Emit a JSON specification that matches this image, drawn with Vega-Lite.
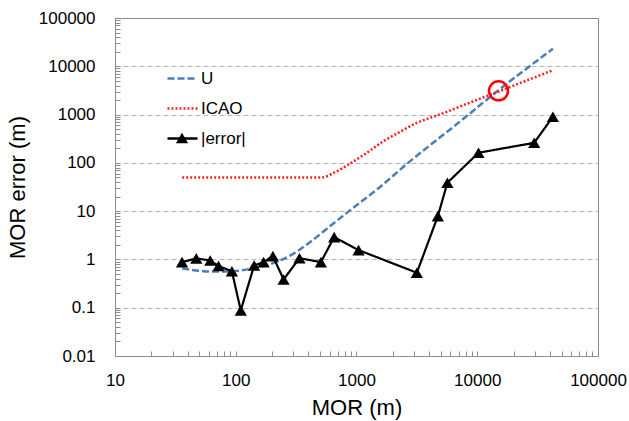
{
  "$schema": "https://vega.github.io/schema/vega-lite/v6.json",
  "width": 483,
  "height": 338,
  "autosize": {"type": "none"},
  "padding": {"left": 115, "top": 18, "right": 31, "bottom": 65},
  "background": "white",
  "config": {
    "font": "Liberation Sans",
    "view": {"stroke": "#8c8c8c", "strokeWidth": 1}
  },
  "data": {
    "values": [
      {"series": "U", "mor": 36, "err": 0.65},
      {"series": "U", "mor": 45, "err": 0.6},
      {"series": "U", "mor": 54, "err": 0.57},
      {"series": "U", "mor": 70, "err": 0.56},
      {"series": "U", "mor": 96, "err": 0.57},
      {"series": "U", "mor": 132, "err": 0.64},
      {"series": "U", "mor": 193, "err": 0.8},
      {"series": "U", "mor": 282, "err": 1.2},
      {"series": "U", "mor": 414, "err": 2.3},
      {"series": "U", "mor": 605, "err": 4.9},
      {"series": "U", "mor": 887, "err": 10.5},
      {"series": "U", "mor": 1500, "err": 29},
      {"series": "U", "mor": 2610, "err": 95},
      {"series": "U", "mor": 7210, "err": 720},
      {"series": "U", "mor": 15000, "err": 3200},
      {"series": "U", "mor": 42300, "err": 23000},
      {"series": "ICAO", "mor": 36, "err": 50},
      {"series": "ICAO", "mor": 518, "err": 50},
      {"series": "ICAO", "mor": 646, "err": 62},
      {"series": "ICAO", "mor": 887, "err": 97},
      {"series": "ICAO", "mor": 1220, "err": 162},
      {"series": "ICAO", "mor": 1675, "err": 281},
      {"series": "ICAO", "mor": 2300, "err": 440},
      {"series": "ICAO", "mor": 3160, "err": 676},
      {"series": "ICAO", "mor": 4350, "err": 905},
      {"series": "ICAO", "mor": 5600, "err": 1140},
      {"series": "ICAO", "mor": 7210, "err": 1470},
      {"series": "ICAO", "mor": 15000, "err": 3000},
      {"series": "ICAO", "mor": 42300, "err": 8300},
      {"series": "|error|", "mor": 35.9, "err": 0.88},
      {"series": "|error|", "mor": 47.1, "err": 1.05},
      {"series": "|error|", "mor": 61.5, "err": 0.95},
      {"series": "|error|", "mor": 72, "err": 0.73},
      {"series": "|error|", "mor": 92.9, "err": 0.57},
      {"series": "|error|", "mor": 110, "err": 0.088},
      {"series": "|error|", "mor": 142, "err": 0.75},
      {"series": "|error|", "mor": 170, "err": 0.88},
      {"series": "|error|", "mor": 203, "err": 1.17},
      {"series": "|error|", "mor": 249, "err": 0.385},
      {"series": "|error|", "mor": 337, "err": 1.06},
      {"series": "|error|", "mor": 507, "err": 0.88},
      {"series": "|error|", "mor": 653, "err": 2.9},
      {"series": "|error|", "mor": 1040, "err": 1.56},
      {"series": "|error|", "mor": 3160, "err": 0.53},
      {"series": "|error|", "mor": 4720, "err": 7.9},
      {"series": "|error|", "mor": 5660, "err": 38.7},
      {"series": "|error|", "mor": 10240, "err": 162},
      {"series": "|error|", "mor": 29600, "err": 260},
      {"series": "|error|", "mor": 42300, "err": 900}
    ]
  },
  "encoding": {
    "x": {
      "field": "mor",
      "type": "quantitative",
      "scale": {"type": "log", "domain": [10, 100000], "nice": false},
      "axis": {
        "title": "MOR (m)",
        "titleFontSize": 22,
        "titleFontWeight": "normal",
        "titleColor": "#000",
        "titleX": 241.5,
        "titleY": 51,
        "titleBaseline": "middle",
        "values": [10,20,30,40,50,60,70,80,90,100,200,300,400,500,600,700,800,900,1000,2000,3000,4000,5000,6000,7000,8000,9000,10000,20000,30000,40000,50000,60000,70000,80000,90000,100000],
        "labelExpr": "indexof([10,100,1000,10000,100000], datum.value) >= 0 ? '' + datum.value : ''",
        "labelFontSize": 17,
        "labelColor": "#000",
        "labelPadding": 21,
        "labelOverlap": false,
        "labelFlush": false,
        "tickSize": -5,
        "tickColor": "#8c8c8c",
        "domainColor": "#8c8c8c",
        "grid": false
      }
    },
    "y": {
      "field": "err",
      "type": "quantitative",
      "scale": {"type": "log", "domain": [0.01, 100000], "nice": false},
      "axis": {
        "title": "MOR error (m)",
        "titleFontSize": 22,
        "titleFontWeight": "normal",
        "titleColor": "#000",
        "titleX": -98,
        "titleY": 169,
        "titleAngle": -90,
        "titleBaseline": "middle",
        "values": [0.01,0.02,0.03,0.04,0.05,0.06,0.07,0.08,0.09,0.1,0.2,0.3,0.4,0.5,0.6,0.7,0.8,0.9,1,2,3,4,5,6,7,8,9,10,20,30,40,50,60,70,80,90,100,200,300,400,500,600,700,800,900,1000,2000,3000,4000,5000,6000,7000,8000,9000,10000,20000,30000,40000,50000,60000,70000,80000,90000,100000],
        "labelExpr": "indexof([0.01,0.1,1,10,100,1000,10000,100000], datum.value) >= 0 ? '' + datum.value : ''",
        "labelFontSize": 17,
        "labelColor": "#000",
        "labelPadding": 25,
        "labelOverlap": false,
        "labelFlush": false,
        "tickSize": -5,
        "tickColor": "#8c8c8c",
        "domainColor": "#8c8c8c",
        "grid": true,
        "gridColor": "#b4b4b4",
        "gridDash": [5, 3],
        "gridWidth": 1,
        "gridOpacity": {"condition": {"test": "indexof([0.1,1,10,100,1000,10000], datum.value) >= 0", "value": 1}, "value": 0}
      }
    }
  },
  "layer": [
    {
      "transform": [{"filter": "datum.series !== '|error|'"}],
      "mark": {"type": "line", "interpolate": "monotone", "strokeWidth": 2.5, "strokeCap": "butt"},
      "encoding": {
        "color": {
          "field": "series",
          "type": "nominal",
          "scale": {"domain": ["U", "ICAO", "|error|"], "range": ["#4a7ebb", "#ff2020", "#000000"]},
          "legend": {
            "title": null,
            "orient": "none",
            "legendX": 51,
            "legendY": 44,
            "symbolType": "stroke",
            "symbolSize": 900,
            "symbolStrokeWidth": 2.5,
            "labelFontSize": 17,
            "labelColor": "#000",
            "labelOffset": 2,
            "rowPadding": 5,
            "padding": 0
          }
        },
        "strokeDash": {
          "field": "series",
          "type": "nominal",
          "scale": {"domain": ["U", "ICAO", "|error|"], "range": [[7, 3], [2, 2], [1, 0]]}
        }
      }
    },
    {
      "transform": [{"filter": "datum.series === '|error|'"}],
      "mark": {"type": "line", "strokeWidth": 2.2},
      "encoding": {
        "color": {"field": "series", "type": "nominal"},
        "strokeDash": {"field": "series", "type": "nominal"}
      }
    },
    {
      "transform": [{"filter": "datum.series === '|error|'"}],
      "mark": {"type": "point", "filled": true, "color": "black", "opacity": 1, "size": 150},
      "encoding": {
        "shape": {
          "field": "series",
          "type": "nominal",
          "scale": {"domain": ["|error|"], "range": ["triangle-up"]},
          "legend": {
            "title": null,
            "orient": "none",
            "legendX": 60,
            "legendY": 113,
            "symbolSize": 150,
            "symbolFillColor": "black",
            "symbolStrokeColor": "black",
            "labelExpr": "''",
            "padding": 0
          }
        }
      }
    },
    {
      "data": {"values": [{"mor": 15000, "err": 3100}]},
      "mark": {"type": "point", "shape": "circle", "filled": false, "stroke": "#ff0000", "strokeWidth": 2.5, "size": 360, "opacity": 1}
    }
  ]
}
